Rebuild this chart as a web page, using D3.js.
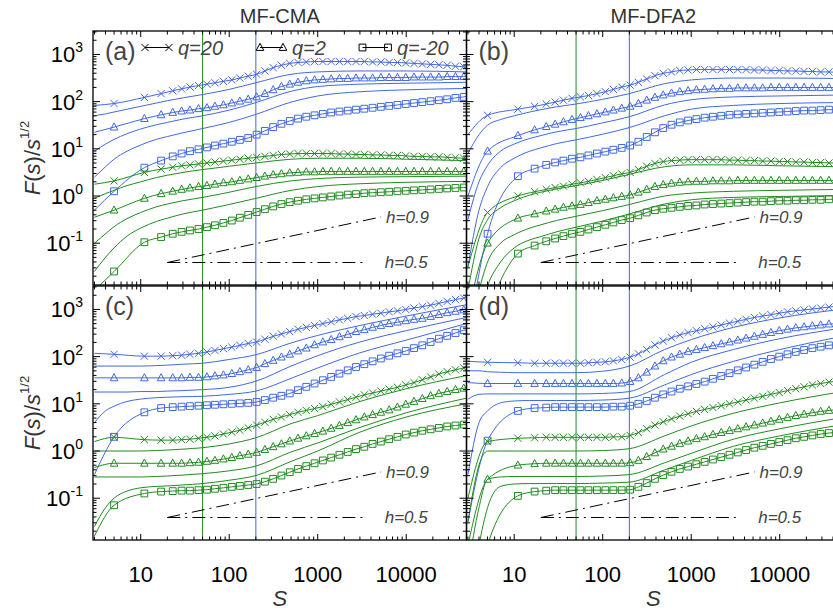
<!DOCTYPE html>
<html><head><meta charset="utf-8">
<script src="https://cdn.jsdelivr.net/npm/d3@7"></script>
<style>body{margin:0;background:#fff}svg{display:block}text{font-family:"Liberation Sans",Arial,Helvetica,sans-serif}</style>
</head><body><svg id="c" width="833" height="612"></svg>
<script>
// ---------- scales grids ----------
const S_MARK = [3,5,11,17,23,29,36,45,56,69,86,107,132,164,204,253,314,389,483,599,743,922,1144,1419,1760,2184,2709,3361,4170,5173,6418,7962,9878,12255,15204,18862,23401,29032,36017,44683,48000];
const S_KNOT = [3,4,5,7,10,15,20,30,50,100,200,500,1000,3000,10000,48000];
const X_TICKS = [10,100,1000,10000];
const Y_TICKS = [0.1,1,10,100,1000];
const PANEL_TITLES = ["MF-CMA","MF-DFA2"];
const PANEL_LABELS = ["(a)","(b)","(c)","(d)"];
const LEGEND = ["q=20","q=2","q=-20"];
const H_LABELS = ["h=0.9","h=0.5"];
const H09_S = [20,5200], H09_V = [0.039,0.36];
const H05_S = [20,3400], H05_V = [0.039,0.039];
const VLINE_GREEN = 50, VLINE_BLUE = 200;

// ---------- panel (a) MF-CMA, log10 values ----------
const aB20 = [1.92,1.96,2.09,2.17,2.23,2.27,2.31,2.34,2.37,2.40,2.43,2.46,2.50,2.54,2.58,2.65,2.72,2.77,2.81,2.83,2.84,2.85,2.85,2.85,2.85,2.85,2.85,2.85,2.84,2.84,2.83,2.83,2.82,2.81,2.80,2.79,2.78,2.77,2.75,2.74,2.73];
const aB2  = [1.35,1.46,1.64,1.72,1.77,1.80,1.82,1.85,1.87,1.90,1.93,1.97,2.01,2.05,2.10,2.17,2.25,2.32,2.37,2.41,2.44,2.46,2.47,2.48,2.49,2.49,2.50,2.50,2.50,2.51,2.51,2.51,2.51,2.52,2.52,2.52,2.52,2.53,2.53,2.53,2.53];
const aBm20= [-0.30,0.10,0.60,0.75,0.84,0.90,0.95,0.99,1.03,1.07,1.11,1.15,1.19,1.23,1.30,1.38,1.46,1.53,1.59,1.64,1.68,1.71,1.74,1.77,1.79,1.81,1.83,1.85,1.87,1.89,1.91,1.93,1.95,1.97,1.99,2.01,2.03,2.05,2.08,2.10,2.11];
const aBL = [
 [1.70,1.74,1.78,1.84,1.90,1.97,2.02,2.08,2.15,2.26,2.40,2.58,2.63,2.65,2.65,2.63],
 [0.95,1.10,1.20,1.32,1.42,1.51,1.56,1.63,1.70,1.82,1.98,2.22,2.32,2.37,2.39,2.41],
 [0.40,0.62,0.78,0.95,1.08,1.20,1.26,1.34,1.43,1.56,1.73,1.99,2.12,2.21,2.25,2.28]];
const aG20 = [0.25,0.32,0.50,0.57,0.61,0.64,0.66,0.68,0.70,0.72,0.74,0.76,0.78,0.80,0.82,0.84,0.86,0.88,0.89,0.90,0.90,0.90,0.90,0.90,0.89,0.89,0.88,0.88,0.87,0.87,0.86,0.86,0.85,0.84,0.84,0.83,0.83,0.82,0.81,0.80,0.80];
const aG2  = [-0.45,-0.30,-0.05,0.05,0.10,0.14,0.17,0.20,0.22,0.25,0.28,0.30,0.33,0.36,0.39,0.42,0.45,0.47,0.49,0.50,0.51,0.51,0.52,0.52,0.52,0.52,0.52,0.52,0.52,0.52,0.52,0.52,0.52,0.52,0.52,0.52,0.52,0.52,0.52,0.52,0.52];
const aGm20= [-2.00,-1.60,-0.98,-0.87,-0.80,-0.76,-0.73,-0.70,-0.66,-0.62,-0.57,-0.52,-0.46,-0.40,-0.34,-0.28,-0.22,-0.17,-0.13,-0.10,-0.07,-0.05,-0.03,-0.01,0.01,0.03,0.04,0.06,0.07,0.08,0.09,0.10,0.11,0.12,0.13,0.14,0.15,0.16,0.17,0.18,0.18];
const aGL = [
 [-0.05,0.05,0.12,0.22,0.30,0.39,0.44,0.50,0.56,0.63,0.70,0.78,0.80,0.80,0.78,0.75],
 [-1.00,-0.80,-0.65,-0.48,-0.35,-0.23,-0.17,-0.10,-0.03,0.08,0.20,0.32,0.37,0.40,0.41,0.42],
 [-1.60,-1.30,-1.10,-0.85,-0.68,-0.54,-0.47,-0.38,-0.30,-0.18,-0.05,0.12,0.20,0.26,0.29,0.31]];

// ---------- panel (b) MF-DFA2 ----------
const bB20 = [1.30,1.71,1.84,1.90,1.95,1.99,2.03,2.07,2.10,2.13,2.17,2.21,2.26,2.31,2.35,2.41,2.48,2.55,2.60,2.63,2.66,2.67,2.68,2.68,2.68,2.68,2.68,2.68,2.68,2.67,2.67,2.66,2.66,2.65,2.65,2.64,2.64,2.63,2.63,2.62,2.62];
const bB2  = [0.00,0.95,1.28,1.40,1.47,1.52,1.57,1.62,1.66,1.70,1.74,1.78,1.82,1.86,1.90,1.96,2.03,2.09,2.14,2.18,2.21,2.23,2.25,2.26,2.27,2.28,2.28,2.29,2.29,2.29,2.29,2.30,2.30,2.30,2.30,2.30,2.30,2.30,2.30,2.30,2.30];
const bBm20= [-3.00,-0.80,0.42,0.58,0.66,0.71,0.75,0.79,0.82,0.86,0.90,0.94,0.98,1.02,1.07,1.15,1.25,1.35,1.44,1.51,1.56,1.60,1.63,1.66,1.68,1.70,1.72,1.73,1.74,1.75,1.76,1.77,1.78,1.79,1.80,1.81,1.81,1.82,1.83,1.83,1.83];
const bBL = [
 [0.90,1.30,1.50,1.62,1.70,1.78,1.83,1.89,1.95,2.05,2.17,2.38,2.46,2.50,2.50,2.49],
 [-0.50,0.30,0.65,0.95,1.10,1.22,1.28,1.36,1.43,1.55,1.68,1.93,2.04,2.10,2.12,2.14],
 [-1.50,-0.30,0.20,0.60,0.80,0.95,1.02,1.11,1.19,1.31,1.45,1.70,1.84,1.92,1.96,1.98]];
const bG20 = [-1.50,-0.35,0.00,0.09,0.14,0.18,0.21,0.25,0.28,0.31,0.35,0.39,0.43,0.47,0.50,0.56,0.63,0.69,0.73,0.75,0.76,0.77,0.77,0.77,0.77,0.77,0.76,0.76,0.75,0.75,0.74,0.74,0.73,0.73,0.72,0.72,0.71,0.71,0.70,0.70,0.70];
const bG2  = [-2.50,-1.00,-0.47,-0.38,-0.32,-0.28,-0.24,-0.21,-0.18,-0.14,-0.10,-0.07,-0.04,-0.01,0.02,0.08,0.14,0.20,0.24,0.27,0.29,0.30,0.31,0.31,0.32,0.32,0.32,0.33,0.33,0.33,0.33,0.33,0.33,0.33,0.33,0.33,0.33,0.33,0.33,0.33,0.33];
const bGm20= [-4.00,-2.50,-1.22,-1.05,-0.96,-0.90,-0.85,-0.80,-0.76,-0.71,-0.66,-0.61,-0.56,-0.51,-0.47,-0.41,-0.35,-0.30,-0.27,-0.25,-0.23,-0.21,-0.20,-0.18,-0.17,-0.16,-0.15,-0.14,-0.13,-0.12,-0.12,-0.11,-0.10,-0.10,-0.09,-0.09,-0.08,-0.08,-0.07,-0.07,-0.07];
const bGL = [
 [-2.00,-0.90,-0.50,-0.25,-0.10,0.02,0.08,0.15,0.22,0.33,0.46,0.62,0.66,0.66,0.64,0.62],
 [-3.00,-2.00,-1.40,-1.00,-0.82,-0.68,-0.61,-0.52,-0.43,-0.31,-0.18,0.00,0.06,0.10,0.12,0.14],
 [-3.50,-2.50,-1.90,-1.40,-1.10,-0.93,-0.86,-0.76,-0.66,-0.53,-0.38,-0.17,-0.08,-0.03,-0.01,0.01]];

// ---------- panel (c) MF-CMA ----------
const cB20 = [2.07,2.05,2.01,2.01,2.02,2.03,2.05,2.07,2.10,2.13,2.17,2.20,2.24,2.28,2.31,2.37,2.43,2.48,2.53,2.58,2.62,2.66,2.70,2.74,2.78,2.81,2.85,2.87,2.90,2.92,2.95,2.97,3.00,3.03,3.06,3.09,3.13,3.17,3.21,3.24,3.25];
const cB2  = [1.55,1.55,1.55,1.55,1.55,1.55,1.56,1.56,1.57,1.59,1.61,1.64,1.68,1.72,1.77,1.85,1.92,1.99,2.05,2.12,2.18,2.25,2.31,2.36,2.42,2.47,2.53,2.57,2.62,2.66,2.70,2.73,2.76,2.79,2.81,2.85,2.89,2.93,2.96,2.99,3.00];
const cBm20= [-0.50,0.30,0.82,0.91,0.93,0.94,0.95,0.96,0.97,0.98,0.99,1.00,1.01,1.02,1.04,1.08,1.13,1.17,1.22,1.29,1.36,1.43,1.50,1.57,1.64,1.71,1.78,1.84,1.90,1.96,2.02,2.07,2.12,2.18,2.24,2.31,2.38,2.44,2.50,2.56,2.57];
const cBL = [
 [1.80,1.80,1.80,1.80,1.80,1.81,1.82,1.84,1.86,1.94,2.04,2.29,2.45,2.66,2.86,3.10],
 [1.25,1.25,1.25,1.25,1.26,1.26,1.27,1.28,1.30,1.35,1.48,1.80,2.02,2.31,2.55,2.83],
 [0.60,0.85,0.95,1.05,1.10,1.13,1.14,1.15,1.16,1.20,1.27,1.54,1.76,2.08,2.35,2.70]];
const cG20 = [0.20,0.29,0.24,0.23,0.23,0.24,0.25,0.27,0.29,0.32,0.36,0.40,0.44,0.49,0.55,0.61,0.67,0.72,0.77,0.82,0.86,0.90,0.94,0.99,1.04,1.09,1.14,1.19,1.23,1.27,1.31,1.35,1.40,1.45,1.51,1.57,1.63,1.68,1.72,1.76,1.77];
const cG2  = [-0.35,-0.26,-0.26,-0.26,-0.26,-0.26,-0.25,-0.24,-0.22,-0.20,-0.17,-0.14,-0.10,-0.07,-0.03,0.03,0.09,0.15,0.21,0.27,0.32,0.37,0.42,0.48,0.54,0.60,0.66,0.72,0.77,0.82,0.87,0.93,0.99,1.05,1.11,1.17,1.22,1.26,1.30,1.33,1.34];
const cGm20= [-1.80,-1.15,-0.90,-0.86,-0.85,-0.84,-0.84,-0.83,-0.82,-0.80,-0.78,-0.76,-0.74,-0.72,-0.70,-0.65,-0.59,-0.52,-0.45,-0.38,-0.32,-0.26,-0.20,-0.14,-0.08,-0.02,0.04,0.09,0.15,0.20,0.25,0.30,0.35,0.39,0.43,0.46,0.49,0.52,0.54,0.56,0.57];
const cGL = [
 [0.00,0.00,0.00,0.00,0.00,0.01,0.02,0.04,0.07,0.15,0.28,0.58,0.75,1.05,1.32,1.60],
 [-0.55,-0.55,-0.55,-0.55,-0.55,-0.54,-0.53,-0.51,-0.48,-0.42,-0.32,-0.02,0.17,0.50,0.81,1.12],
 [-1.60,-1.20,-1.00,-0.85,-0.78,-0.75,-0.74,-0.72,-0.69,-0.62,-0.52,-0.22,0.00,0.40,0.72,1.00]];

// ---------- panel (d) MF-DFA2 ----------
const dB20 = [1.90,1.88,1.87,1.86,1.86,1.86,1.86,1.86,1.86,1.87,1.88,1.89,1.91,1.94,1.99,2.06,2.15,2.25,2.33,2.40,2.46,2.51,2.55,2.59,2.63,2.67,2.71,2.75,2.79,2.83,2.86,2.89,2.92,2.95,2.97,2.99,3.01,3.03,3.05,3.07,3.08];
const dB2  = [1.45,1.43,1.43,1.43,1.43,1.43,1.43,1.43,1.43,1.43,1.43,1.43,1.43,1.44,1.47,1.55,1.67,1.80,1.91,1.99,2.05,2.11,2.15,2.19,2.23,2.27,2.31,2.35,2.39,2.43,2.47,2.51,2.55,2.58,2.61,2.63,2.65,2.67,2.69,2.70,2.71];
const dBm20= [-1.50,0.22,0.85,0.91,0.92,0.93,0.93,0.93,0.93,0.93,0.93,0.93,0.94,0.94,0.96,1.00,1.06,1.13,1.20,1.26,1.32,1.37,1.42,1.47,1.53,1.59,1.65,1.71,1.77,1.83,1.89,1.95,2.00,2.05,2.10,2.14,2.18,2.21,2.24,2.26,2.27];
const dBL = [
 [1.70,1.70,1.68,1.67,1.66,1.66,1.66,1.66,1.66,1.69,1.80,2.15,2.36,2.62,2.82,3.00],
 [1.10,1.20,1.21,1.21,1.21,1.21,1.21,1.21,1.21,1.22,1.26,1.62,1.88,2.15,2.38,2.60],
 [-0.50,0.60,0.85,1.02,1.06,1.07,1.07,1.07,1.07,1.08,1.12,1.40,1.62,1.90,2.15,2.42]];
const dG20 = [-1.00,0.20,0.27,0.28,0.29,0.29,0.29,0.29,0.29,0.29,0.29,0.29,0.30,0.30,0.33,0.39,0.47,0.55,0.62,0.68,0.74,0.79,0.84,0.88,0.92,0.96,1.00,1.04,1.08,1.12,1.16,1.20,1.24,1.28,1.32,1.36,1.40,1.43,1.46,1.48,1.49];
const dG2  = [-2.00,-0.60,-0.30,-0.27,-0.26,-0.26,-0.26,-0.26,-0.26,-0.26,-0.26,-0.26,-0.26,-0.26,-0.25,-0.20,-0.12,-0.04,0.04,0.10,0.16,0.21,0.26,0.30,0.35,0.39,0.43,0.47,0.51,0.55,0.59,0.63,0.67,0.71,0.75,0.78,0.81,0.84,0.86,0.88,0.89];
const dGm20= [-4.00,-2.00,-0.95,-0.86,-0.84,-0.83,-0.83,-0.83,-0.83,-0.83,-0.83,-0.83,-0.83,-0.83,-0.82,-0.76,-0.68,-0.59,-0.51,-0.44,-0.38,-0.33,-0.28,-0.23,-0.18,-0.13,-0.08,-0.03,0.02,0.07,0.11,0.15,0.19,0.23,0.27,0.30,0.33,0.36,0.38,0.40,0.41];
const dGL = [
 [-1.50,-0.30,0.00,0.00,0.00,0.00,0.00,0.00,0.00,0.01,0.05,0.32,0.53,0.80,1.02,1.25],
 [-2.50,-1.20,-0.60,-0.55,-0.54,-0.54,-0.54,-0.54,-0.54,-0.53,-0.50,-0.25,-0.05,0.25,0.47,0.70],
 [-3.50,-2.00,-1.20,-0.75,-0.70,-0.69,-0.69,-0.69,-0.69,-0.68,-0.66,-0.40,-0.20,0.10,0.32,0.55]];

// ---------- layout ----------
const BLUE = "#4169e1", GREEN = "#228b22";
const COLX = [[93,466.5],[466.5,840]];
const ROWY = [[285,31],[540,286]];
const S_DOMAIN = [2.89,48000], V_DOMAIN = [0.013,3140];

const panels = [
 {col:0,row:0,lab:PANEL_LABELS[0],groups:[{c:BLUE,m:[aB20,aB2,aBm20],L:aBL},{c:GREEN,m:[aG20,aG2,aGm20],L:aGL}]},
 {col:1,row:0,lab:PANEL_LABELS[1],groups:[{c:BLUE,m:[bB20,bB2,bBm20],L:bBL},{c:GREEN,m:[bG20,bG2,bGm20],L:bGL}]},
 {col:0,row:1,lab:PANEL_LABELS[2],groups:[{c:BLUE,m:[cB20,cB2,cBm20],L:cBL},{c:GREEN,m:[cG20,cG2,cGm20],L:cGL}]},
 {col:1,row:1,lab:PANEL_LABELS[3],groups:[{c:BLUE,m:[dB20,dB2,dBm20],L:dBL},{c:GREEN,m:[dG20,dG2,dGm20],L:dGL}]}
];

const MARK = {
 x: "M-3.6,-3.6L3.6,3.6M-3.6,3.6L3.6,-3.6",
 t: "M0,-4.2L3.8,2.9L-3.8,2.9Z",
 s: "M-3.4,-3.4H3.4V3.4H-3.4Z"
};
const MTYPES = ["x","t","s"];

const svg = d3.select("#c");
svg.append("rect").attr("width",833).attr("height",612).attr("fill","#fff");
const defs = svg.append("defs");

function minors(lo,hi){
  const out=[];
  for(let d=-3; d<=5; d++) for(let k=1;k<=9;k++){const v=k*Math.pow(10,d); if(v>=lo&&v<=hi) out.push({v,major:k===1});}
  return out;
}

panels.forEach((p,i)=>{
  const [x0,x1]=COLX[p.col], [y0,y1]=ROWY[p.row];
  const x=d3.scaleLog().domain(S_DOMAIN).range([x0,x1]);
  const y=d3.scaleLog().domain(V_DOMAIN).range([y0,y1]);
  const cid="clip"+i;
  defs.append("clipPath").attr("id",cid).append("rect").attr("x",x0).attr("y",y1).attr("width",x1-x0).attr("height",y0-y1);
  const g=svg.append("g").attr("clip-path",`url(#${cid})`);

  g.append("line").attr("x1",x(VLINE_GREEN)).attr("x2",x(VLINE_GREEN)).attr("y1",y1).attr("y2",y0).attr("stroke",GREEN).attr("stroke-width",1);
  g.append("line").attr("x1",x(VLINE_BLUE)).attr("x2",x(VLINE_BLUE)).attr("y1",y1).attr("y2",y0).attr("stroke",BLUE).attr("stroke-width",1);

  const line=d3.line().x(d=>x(d[0])).y(d=>y(d[1])).curve(d3.curveMonotoneX);
  p.groups.forEach(gr=>{
    gr.L.forEach(arr=>{
      g.append("path").attr("d",line(S_KNOT.map((s,j)=>[s,Math.pow(10,arr[j])]))).attr("fill","none").attr("stroke",gr.c).attr("stroke-width",1);
    });
    gr.m.forEach((arr,k)=>{
      const pts=S_MARK.map((s,j)=>[s,Math.pow(10,arr[j])]);
      g.append("path").attr("d",line(pts)).attr("fill","none").attr("stroke",gr.c).attr("stroke-width",1);
      g.selectAll(null).data(pts.slice(1,pts.length-1)).join("path")
        .attr("transform",d=>`translate(${x(d[0])},${y(d[1])})`)
        .attr("d",MARK[MTYPES[k]]).attr("fill","none").attr("stroke",gr.c).attr("stroke-width",1);
    });
  });

  const hl=d3.line().x(d=>x(d[0])).y(d=>y(d[1]));
  g.append("path").attr("d",hl(H09_S.map((s,j)=>[s,H09_V[j]]))).attr("stroke","#000").attr("stroke-width",1).attr("fill","none").attr("stroke-dasharray","13,5,2,5");
  g.append("path").attr("d",hl(H05_S.map((s,j)=>[s,H05_V[j]]))).attr("stroke","#000").attr("stroke-width",1).attr("fill","none").attr("stroke-dasharray","13,5,2,5");
  g.append("text").attr("x",x(H09_S[1])+5).attr("y",y(H09_V[1])+6).text(H_LABELS[0]).attr("font-size",17).attr("font-style","italic").attr("fill","#444");
  g.append("text").attr("x",x(H05_S[1])+20).attr("y",y(H05_V[1])+6).text(H_LABELS[1]).attr("font-size",17).attr("font-style","italic").attr("fill","#444");

  const a=svg.append("g");
  a.append("rect").attr("x",x0).attr("y",y1).attr("width",x1-x0).attr("height",y0-y1).attr("fill","none").attr("stroke","#000").attr("stroke-width",1.3);
  minors(S_DOMAIN[0],S_DOMAIN[1]).forEach(t=>{
    const L=t.major?6:3.5, xx=x(t.v);
    a.append("line").attr("x1",xx).attr("x2",xx).attr("y1",y0).attr("y2",y0-L).attr("stroke","#000");
    a.append("line").attr("x1",xx).attr("x2",xx).attr("y1",y1).attr("y2",y1+L).attr("stroke","#000");
  });
  minors(V_DOMAIN[0],V_DOMAIN[1]).forEach(t=>{
    const L=t.major?7:3.5, yy=y(t.v);
    a.append("line").attr("x1",x0).attr("x2",x0+L).attr("y1",yy).attr("y2",yy).attr("stroke","#000");
    a.append("line").attr("x1",x1).attr("x2",x1-L).attr("y1",yy).attr("y2",yy).attr("stroke","#000");
  });

  svg.append("text").attr("x",x0+12).attr("y",y1+29).text(p.lab).attr("font-size",25).attr("fill","#444");

  if(p.row===1){
    X_TICKS.forEach(t=>{
      svg.append("text").attr("x",x(t)).attr("y",582).attr("text-anchor","middle").attr("font-size",22).attr("fill","#000").text(String(t));
    });
    svg.append("text").attr("x",(x0+x1)/2).attr("y",606).attr("text-anchor","middle").attr("font-size",22).attr("font-style","italic").attr("fill","#333").text("S");
  } else {
    svg.append("text").attr("x",(x0+x1)/2).attr("y",23).attr("text-anchor","middle").attr("font-size",20).attr("fill","#333").text(PANEL_TITLES[p.col]);
  }
  if(p.col===0){
    Y_TICKS.forEach(t=>{
      const e=Math.round(Math.log10(t));
      const tx=svg.append("text").attr("x",83).attr("y",y(t)+8).attr("text-anchor","end").attr("font-size",22).attr("fill","#000");
      tx.append("tspan").text("10");
      tx.append("tspan").attr("dy",-10).attr("font-size",14).text(String(e));
    });
    const cy=(y0+y1)/2;
    const yt=svg.append("text").attr("transform",`translate(40,${cy}) rotate(-90)`).attr("text-anchor","middle").attr("font-size",22).attr("fill","#333");
    yt.append("tspan").attr("font-style","italic").text("F");
    yt.append("tspan").text("(");
    yt.append("tspan").attr("font-style","italic").text("s");
    yt.append("tspan").text(")/");
    yt.append("tspan").attr("font-style","italic").text("s");
    yt.append("tspan").attr("dy",-11).attr("font-size",13).text("1/2");
  }

  if(i===0){
    const lg=svg.append("g");
    const items=[{x1:145,x2:169,tx:178,k:0},{x1:260,x2:283,tx:292,k:1},{x1:362.5,x2:388,tx:397,k:2}];
    const ly=47.5;
    items.forEach(it=>{
      lg.append("line").attr("x1",it.x1).attr("x2",it.x2).attr("y1",ly).attr("y2",ly).attr("stroke","#000");
      [it.x1,it.x2].forEach(xx=>lg.append("path").attr("transform",`translate(${xx},${ly})`).attr("d",MARK[MTYPES[it.k]]).attr("fill","none").attr("stroke","#000"));
      lg.append("text").attr("x",it.tx).attr("y",ly+7).attr("font-size",20).attr("font-style","italic").attr("fill","#444").text(LEGEND[it.k]);
    });
  }
});
</script></body></html>
